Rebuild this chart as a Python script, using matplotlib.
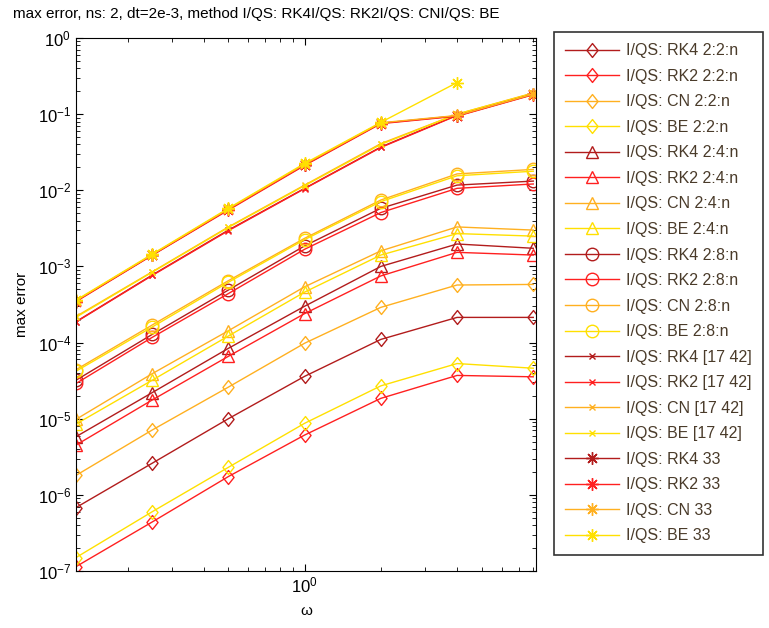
import matplotlib.pyplot as plt
from matplotlib.path import Path
from matplotlib.ticker import NullFormatter
import numpy as np

plt.rcParams['font.family'] = ['Liberation Sans', 'DejaVu Sans']

omega = [0.125, 0.25, 0.5, 1, 2, 4, 8]

methods = ['RK4', 'RK2', 'CN', 'BE']
colors = ['#b21c1c', '#ff2020', '#ffb020', '#ffe000']

# 2:2:n (diamonds)
d_rk4 = [6.8e-7, 2.6e-6, 1.0e-5, 3.6e-5, 1.1e-4, 2.14e-4, 2.14e-4]
d_rk2 = [1.14e-7, 4.4e-7, 1.74e-6, 6.1e-6, 1.85e-5, 3.7e-5, 3.55e-5]
d_cn = [1.8e-6, 7.1e-6, 2.6e-5, 9.8e-5, 2.9e-4, 5.7e-4, 5.8e-4]
d_be = [1.5e-7, 6.0e-7, 2.3e-6, 8.7e-6, 2.7e-5, 5.3e-5, 4.6e-5]

# 2:4:n (triangles)
t_rk4 = [5.8e-6, 2.2e-5, 8.4e-5, 3.0e-4, 1.0e-3, 1.97e-3, 1.73e-3]
t_rk2 = [4.5e-6, 1.76e-5, 6.6e-5, 2.4e-4, 7.5e-4, 1.53e-3, 1.41e-3]
t_cn = [9.8e-6, 3.9e-5, 1.43e-4, 5.4e-4, 1.6e-3, 3.3e-3, 3.0e-3]
t_be = [8.5e-6, 3.2e-5, 1.22e-4, 4.6e-4, 1.41e-3, 2.7e-3, 2.5e-3]

# 2:8:n (circles)
c_rk4 = [3.2e-5, 1.28e-4, 4.9e-4, 1.86e-3, 5.8e-3, 1.17e-2, 1.32e-2]
c_rk2 = [2.9e-5, 1.17e-4, 4.4e-4, 1.68e-3, 5.1e-3, 1.06e-2, 1.21e-2]
c_cn = [4.4e-5, 1.7e-4, 6.5e-4, 2.34e-3, 7.45e-3, 1.64e-2, 1.88e-2]
c_be = [4.2e-5, 1.6e-4, 6.2e-4, 2.25e-3, 7.1e-3, 1.55e-2, 1.78e-2]

# [17 42] (x)
x_rk4 = [1.88e-4, 7.7e-4, 3.0e-3, 1.06e-2, 3.7e-2, 9.7e-2, 0.187]
x_rk2 = [1.86e-4, 7.6e-4, 2.95e-3, 1.05e-2, 3.65e-2, 9.6e-2, 0.185]
x_cn = [2.2e-4, 8.5e-4, 3.3e-3, 1.17e-2, 4.1e-2, 1.0e-1, 0.19]
x_be = [2.15e-4, 8.4e-4, 3.25e-3, 1.15e-2, 4.0e-2, 1.0e-1, 0.188]

# 33 (asterisks)
s_rk4 = [3.5e-4, 1.41e-3, 5.6e-3, 2.15e-2, 7.6e-2, 9.5e-2, 0.182]
s_rk2 = [3.45e-4, 1.4e-3, 5.5e-3, 2.12e-2, 7.5e-2, 9.4e-2, 0.18]
s_cn = [3.55e-4, 1.43e-3, 5.7e-3, 2.2e-2, 7.7e-2, 9.6e-2, 0.183]
s_be = [3.6e-4, 1.45e-3, 5.8e-3, 2.25e-2, 7.8e-2, 0.26, np.nan]

# slightly narrow diamond like matlab's
diamond = Path([(0, 1), (0.8, 0), (0, -1), (-0.8, 0), (0, 1)],
               [Path.MOVETO, Path.LINETO, Path.LINETO, Path.LINETO, Path.CLOSEPOLY])

groups = [
    ('2:2:n', diamond, 10, [d_rk4, d_rk2, d_cn, d_be]),
    ('2:4:n', '^', 9, [t_rk4, t_rk2, t_cn, t_be]),
    ('2:8:n', 'o', 9, [c_rk4, c_rk2, c_cn, c_be]),
    ('[17 42]', 'x', 5, [x_rk4, x_rk2, x_cn, x_be]),
    ('33', (8, 2, 0), 9, [s_rk4, s_rk2, s_cn, s_be]),
]

fig = plt.figure(figsize=(7.69, 6.28), dpi=100)
ax = fig.add_axes([0.0988, 0.0908, 0.5982, 0.8487])

for suffix, mk, ms, series in groups:
    for m, col, vals in zip(methods, colors, series):
        ax.plot(omega, vals, color=col, marker=mk, ms=ms, mfc='none',
                mec=col, mew=1, lw=1, label='I/QS: %s %s' % (m, suffix))

ax.set_xscale('log')
ax.set_yscale('log')
ax.set_xlim(0.125, 8.2)
ax.set_ylim(1e-7, 1)
ax.set_xticks([1])
ax.set_yticks([1e-7, 1e-6, 1e-5, 1e-4, 1e-3, 1e-2, 1e-1, 1])
ax.xaxis.set_minor_formatter(NullFormatter())
ax.yaxis.set_minor_formatter(NullFormatter())
ax.tick_params(which='both', direction='in', top=True, right=True, labelsize=12)
ax.tick_params(which='major', length=5)
ax.tick_params(which='minor', length=3)
ax.set_xlabel('ω', fontsize=11, labelpad=6)
ax.set_ylabel('max error', fontsize=11, labelpad=6)

fig.text(13 / 769, 1 - 14 / 628,
         'max error, ns: 2, dt=2e-3, method I/QS: RK4I/QS: RK2I/QS: CNI/QS: BE',
         fontsize=11, va='center', ha='left')

leg = fig.legend(loc='upper left', bbox_to_anchor=(554 / 769, 1 - 32 / 628),
                 fontsize=11.5, handlelength=3.4, handletextpad=0.4,
                 frameon=True, fancybox=False, edgecolor='black',
                 labelspacing=0.66, borderaxespad=0, borderpad=0.7)
leg.get_frame().set_linewidth(1.2)
for t in leg.get_texts():
    t.set_color('#4a3b2a')

fig.savefig('out.png', dpi=100)
